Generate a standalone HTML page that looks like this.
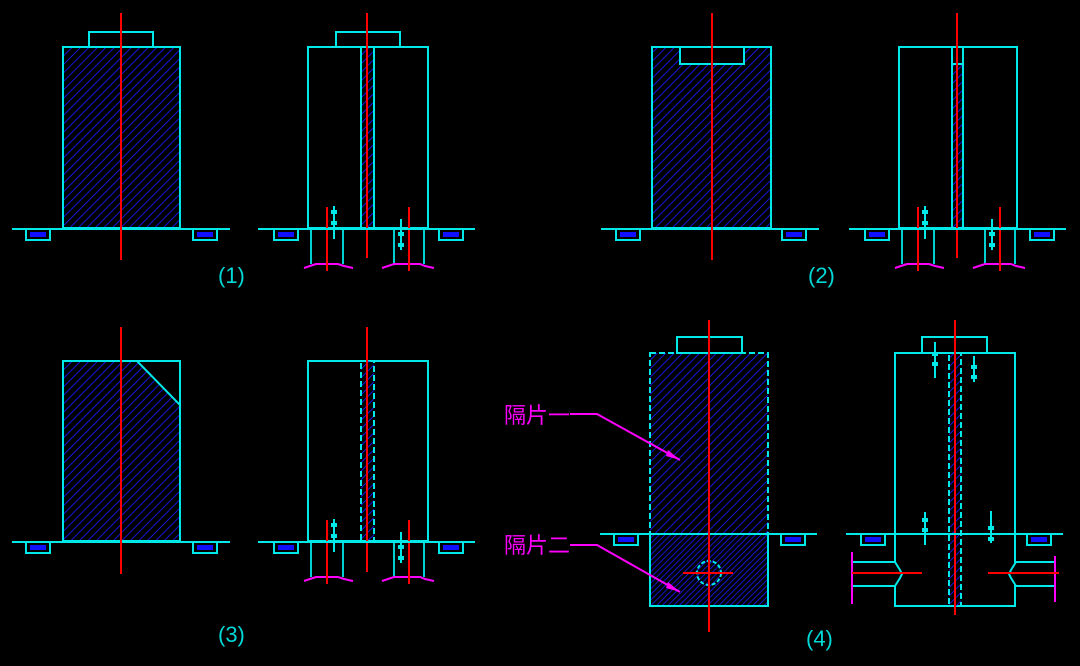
<!DOCTYPE html>
<html><head><meta charset="utf-8"><style>
html,body{margin:0;padding:0;background:#000;width:1080px;height:666px;overflow:hidden}
</style></head><body>
<svg width="1080" height="666" viewBox="0 0 1080 666" xmlns="http://www.w3.org/2000/svg">
<defs>
<pattern id="h" width="6" height="6" patternUnits="userSpaceOnUse" patternTransform="rotate(45)">
<line x1="0" y1="0" x2="0" y2="6" stroke="#1a1aff" stroke-width="1.7"/></pattern>
<pattern id="h2" width="4" height="4" patternUnits="userSpaceOnUse" patternTransform="rotate(45)">
<line x1="0" y1="0" x2="0" y2="4" stroke="#1a1aff" stroke-width="1.6"/></pattern>
<g id="box"><rect x="0" y="0" width="24" height="11" fill="none" stroke="#00e8e8" stroke-width="2"/><rect x="4" y="3" width="16" height="5" fill="#1010ff"/></g>
<g id="legs">
<line x1="311" y1="228" x2="311" y2="264" stroke="#00d0d0" stroke-width="2"/>
<line x1="343" y1="228" x2="343" y2="264" stroke="#00d0d0" stroke-width="2"/>
<line x1="394" y1="228" x2="394" y2="264" stroke="#00d0d0" stroke-width="2"/>
<line x1="424" y1="228" x2="424" y2="264" stroke="#00d0d0" stroke-width="2"/>
<polyline points="304,268 310,266 316,264 338,264 344,266 353,268" fill="none" stroke="#ff00ff" stroke-width="2"/>
<polyline points="382,268 388,266 394,264 420,264 425,266 434,268" fill="none" stroke="#ff00ff" stroke-width="2"/>
<line x1="327" y1="207" x2="327" y2="271" stroke="#ff0000" stroke-width="2"/>
<line x1="409" y1="207" x2="409" y2="271" stroke="#ff0000" stroke-width="2"/>
<line x1="334" y1="206" x2="334" y2="239" stroke="#00e8e8" stroke-width="2"/>
<rect x="331" y="210" width="6" height="4" fill="#00e8e8"/><rect x="331" y="221" width="6" height="4" fill="#00e8e8"/>
<line x1="401" y1="219" x2="401" y2="250" stroke="#00e8e8" stroke-width="2"/>
<rect x="398" y="232" width="6" height="4" fill="#00e8e8"/><rect x="398" y="243" width="6" height="4" fill="#00e8e8"/>
<use href="#box" x="274" y="229"/><use href="#box" x="439" y="229"/>
<line x1="258" y1="229" x2="475" y2="229" stroke="#00e8e8" stroke-width="2"/>
</g>
</defs>
<g fill="none" stroke-width="2">
<rect x="63" y="47" width="117" height="181" fill="url(#h)" stroke="#00e8e8"/>
<rect x="89" y="32" width="64" height="15" stroke="#00e8e8"/>
<line x1="12" y1="229" x2="230" y2="229" stroke="#00e8e8"/>
<use href="#box" x="26" y="229"/><use href="#box" x="193" y="229"/>
<line x1="121" y1="13" x2="121" y2="260" stroke="#ff0000"/>
<rect x="308" y="47" width="120" height="181" stroke="#00e8e8"/>
<rect x="336" y="32" width="64" height="15" stroke="#00e8e8"/>
<rect x="361" y="47" width="13" height="181" fill="url(#h)" stroke="#00e8e8"/>
<line x1="367" y1="13" x2="367" y2="258" stroke="#ff0000"/>
<use href="#legs"/>
<rect x="652" y="47" width="119" height="181" fill="url(#h)" stroke="#00e8e8"/>
<rect x="680" y="47" width="64" height="17" fill="#000" stroke="#00e8e8"/>
<line x1="601" y1="229" x2="819" y2="229" stroke="#00e8e8"/>
<use href="#box" x="616" y="229"/><use href="#box" x="782" y="229"/>
<line x1="712" y1="13" x2="712" y2="260" stroke="#ff0000"/>
<rect x="899" y="47" width="118" height="181" stroke="#00e8e8"/>
<rect x="952" y="64" width="11" height="164" fill="url(#h)" stroke="#00e8e8"/>
<line x1="952" y1="47" x2="952" y2="64" stroke="#00e8e8"/><line x1="963" y1="47" x2="963" y2="64" stroke="#00e8e8"/>
<line x1="957" y1="13" x2="957" y2="258" stroke="#ff0000"/>
<use href="#legs" x="591"/>
<polygon points="63,361 137,361 180,405 180,541 63,541" fill="url(#h)" stroke="#00e8e8"/>
<polyline points="137,361 180,361 180,405" stroke="#00e8e8"/>
<line x1="12" y1="542" x2="230" y2="542" stroke="#00e8e8"/>
<use href="#box" x="26" y="542"/><use href="#box" x="193" y="542"/>
<line x1="121" y1="327" x2="121" y2="574" stroke="#ff0000"/>
<rect x="308" y="361" width="120" height="180" stroke="#00e8e8"/>
<rect x="361" y="361" width="13" height="180" fill="url(#h)" stroke="#00e8e8" stroke-dasharray="6,3"/>
<line x1="367" y1="327" x2="367" y2="572" stroke="#ff0000"/>
<use href="#legs" y="313"/>
<rect x="650" y="353" width="118" height="181" fill="url(#h)" stroke="#00e8e8" stroke-dasharray="6,3"/>
<rect x="650" y="534" width="118" height="72" fill="url(#h2)" stroke="#00e8e8"/>
<rect x="677" y="337" width="65" height="16" stroke="#00e8e8"/>
<line x1="600" y1="534" x2="817" y2="534" stroke="#00e8e8"/>
<use href="#box" x="614" y="534"/><use href="#box" x="781" y="534"/>
<circle cx="709" cy="573" r="12" stroke="#00e8e8" stroke-dasharray="4,2"/>
<line x1="683" y1="573" x2="733" y2="573" stroke="#ff0000"/>
<line x1="709" y1="320" x2="709" y2="632" stroke="#ff0000"/>
<rect x="895" y="353" width="120" height="253" stroke="#00e8e8"/>
<rect x="922" y="337" width="65" height="16" stroke="#00e8e8"/>
<rect x="949" y="353" width="12" height="253" fill="url(#h)" stroke="#00e8e8" stroke-dasharray="6,3"/>
<line x1="955" y1="320" x2="955" y2="615" stroke="#ff0000"/>
<line x1="846" y1="534" x2="1063" y2="534" stroke="#00e8e8"/>
<use href="#box" x="861" y="534"/><use href="#box" x="1027" y="534"/>
<rect x="893" y="563" width="4" height="22" fill="#000" stroke="none"/>
<rect x="1013" y="563" width="4" height="22" fill="#000" stroke="none"/>
<polyline points="852,562 895,562 900,570 902,574 900,578 895,586 852,586" stroke="#00e8e8"/>
<polyline points="1056,562 1016,562 1011,570 1009,574 1011,578 1016,586 1056,586" stroke="#00e8e8"/>
<line x1="852" y1="552" x2="852" y2="604" stroke="#ff00ff"/>
<line x1="1055" y1="556" x2="1055" y2="602" stroke="#ff00ff"/>
<line x1="852" y1="573" x2="922" y2="573" stroke="#ff0000"/>
<line x1="988" y1="573" x2="1059" y2="573" stroke="#ff0000"/>
<line x1="935" y1="342" x2="935" y2="378" stroke="#00e8e8"/>
<line x1="974" y1="356" x2="974" y2="382" stroke="#00e8e8"/>
<line x1="925" y1="512" x2="925" y2="545" stroke="#00e8e8"/>
<line x1="991" y1="511" x2="991" y2="543" stroke="#00e8e8"/>
<polyline points="570,414 597,414 680,460" stroke="#ff00ff"/>
<polyline points="570,545 597,545 680,592" stroke="#ff00ff"/>
</g>
<g fill="#ff00ff">
<polygon points="680,460 668,450 666,456"/>
<polygon points="680,592 668,582 666,588"/>
</g>
<g fill="#00e8e8">
<rect x="932" y="352" width="6" height="4"/><rect x="932" y="362" width="6" height="4"/>
<rect x="971" y="365" width="6" height="4"/><rect x="971" y="375" width="6" height="4"/>
<rect x="922" y="518" width="6" height="4"/><rect x="922" y="528" width="6" height="4"/>
<rect x="988" y="526" width="6" height="4"/><rect x="988" y="537" width="6" height="4"/>
</g>
<g font-family="'Liberation Sans',sans-serif" font-size="22" fill="#00d8d8">
<text x="218" y="283">(1)</text>
<text x="808" y="283">(2)</text>
<text x="218" y="642">(3)</text>
<text x="806" y="646">(4)</text>
</g>
<g font-family="'Liberation Sans','Noto Sans CJK SC',sans-serif" font-size="22" fill="#ff00ff">
<text x="504" y="423">隔片一</text>
<text x="504" y="553">隔片二</text>
</g>
</svg>
</body></html>
